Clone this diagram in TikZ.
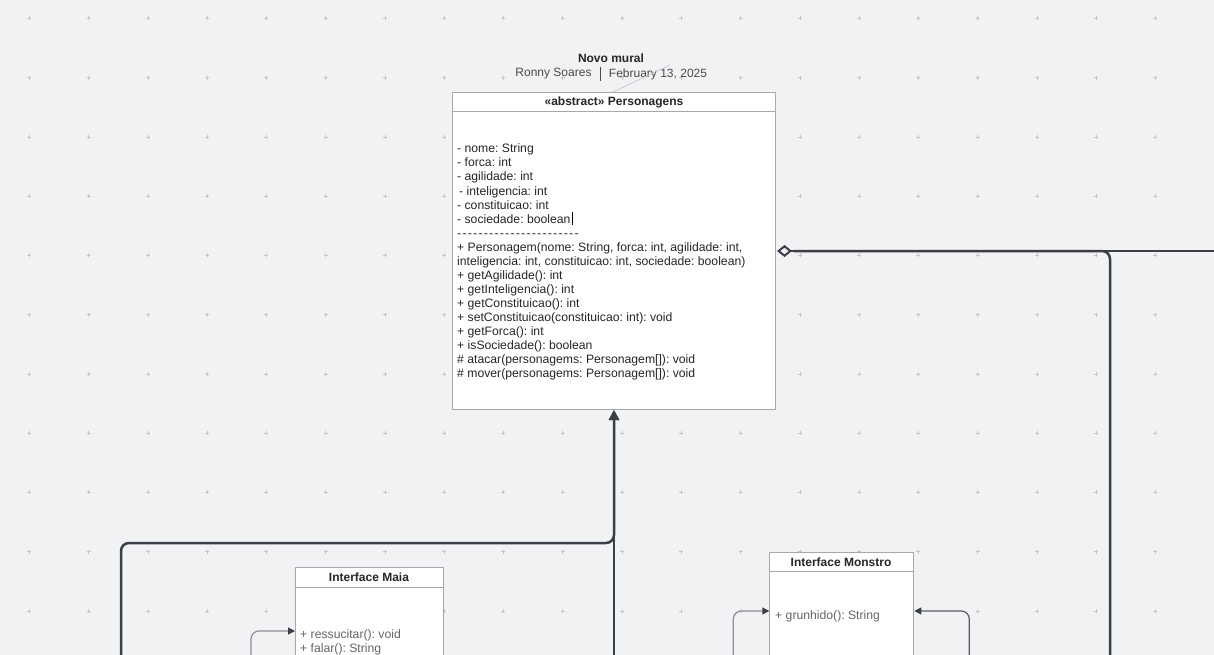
\documentclass[tikz,border=0pt]{standalone}
\usepackage{fontspec}
\setmainfont{Liberation Sans}
\usetikzlibrary{arrows.meta}
\definecolor{bg}{HTML}{F1F2F4}
\definecolor{gridc}{HTML}{C4C6CA}
\definecolor{boxb}{HTML}{A7A8AB}
\definecolor{dark}{HTML}{3B3F49}
\definecolor{thin}{HTML}{8B8E95}
\definecolor{txt}{HTML}{262626}
\definecolor{txtl}{HTML}{4A4A4A}
\frenchspacing
\newcommand{\dsh}{-\kern1.27pt}
\begin{document}
\begin{tikzpicture}[x=1pt,y=-1pt,
  umlbox/.style={draw=boxb, line width=1pt, fill=white, rectangle, inner sep=0pt, anchor=north west},
  hdr/.style={font=\fontsize{12}{14}\selectfont\bfseries, text=txt, inner sep=0pt},
  ln/.style={font=\fontsize{12.2}{14}\selectfont, text=txt, inner sep=0pt, anchor=base west},
  lnl/.style={ln, text=txtl!85},
  sub/.style={font=\fontsize{12}{14}\selectfont, text=txtl, inner sep=0pt},
  conn/.style={draw=dark, line width=2.5pt, rounded corners=8pt},
  thinconn/.style={draw=thin, line width=1.2pt, rounded corners=8pt, -{Triangle[length=7pt,width=7pt,color=dark]}},
  sepline/.style={draw=boxb, line width=1pt},
]
\useasboundingbox[fill=bg] (0,0) rectangle (1214,655);
\clip (0,0) rectangle (1214,655);
% grid of plus marks
\foreach \i in {0,...,19}{\foreach \j in {0,...,10}{
  \draw[gridc, line width=0.6pt] (29.3+59.27*\i-2, 18.3+59.27*\j) -- ++(4,0)
     (29.3+59.27*\i, 18.3+59.27*\j-2) -- ++(0,4);
}}
% title
\node[hdr] (title) at (611,58) {Novo mural};
\node[sub] (author) at (553.5,74) {Ronny Soares};
\node[sub] (date) at (658,74) {February 13, 2025};
\draw[txtl, line width=0.8pt] (600,67) -- (600,81);
% main class
\node[umlbox, minimum width=323pt, minimum height=317pt] (pers) at (452,92) {};
\coordinate (faint) at (670,65);
\draw[gridc, line width=0.7pt] ([xshift=-1pt]pers.north) -- (faint);
\draw[sepline] ([yshift=-20pt]pers.north west) -- ([yshift=-20pt]pers.north east);
\node[hdr] (persh) at (614,102.5) {«abstract» Personagens};
\node[ln] (p1) at (457,153) {- nome: String};
\node[ln] (p2) at (457,167) {- forca: int};
\node[ln] (p3) at (457,181) {- agilidade: int};
\node[ln] (p4) at (459,195) {- inteligencia: int};
\node[ln] (p5) at (457,209) {- constituicao: int};
\node[ln] (p6) at (457,223) {- sociedade: boolean};
\draw[black, line width=0.8pt] ([xshift=2pt,yshift=-2pt]p6.base east) -- ++(0,-13);
\node[ln] (p7) at (457,237) {\dsh\dsh\dsh\dsh\dsh\dsh\dsh\dsh\dsh\dsh\dsh\dsh\dsh\dsh\dsh\dsh\dsh\dsh\dsh\dsh\dsh\dsh-};
\node[ln] (p8) at (457,251) {+ Personagem(nome: String, forca: int, agilidade: int,};
\node[ln] (p9) at (457,265) {inteligencia: int, constituicao: int, sociedade: boolean)};
\node[ln] (p10) at (457,279) {+ getAgilidade(): int};
\node[ln] (p11) at (457,293) {+ getInteligencia(): int};
\node[ln] (p12) at (457,307) {+ getConstituicao(): int};
\node[ln] (p13) at (457,321) {+ setConstituicao(constituicao: int): void};
\node[ln] (p14) at (457,335) {+ getForca(): int};
\node[ln] (p15) at (457,349) {+ isSociedade(): boolean};
\node[ln] (p16) at (457,363) {\# atacar(personagems: Personagem[]): void};
\node[ln] (p17) at (457,377) {\# mover(personagems: Personagem[]): void};
% Interface Maia
\node[umlbox, minimum width=148pt, minimum height=120pt] (maia) at (295,567) {};
\draw[sepline] ([yshift=-20pt]maia.north west) -- ([yshift=-20pt]maia.north east);
\node[hdr] (maiah) at (369,577) {Interface Maia};
\node[lnl] (m1) at (300,638) {+ ressucitar(): void};
\node[lnl] (m2) at (300,652) {+ falar(): String};
% Interface Monstro
\node[umlbox, minimum width=144pt, minimum height=130pt] (mon) at (769.3,551.7) {};
\draw[sepline] ([yshift=-20pt]mon.north west) -- ([yshift=-20pt]mon.north east);
\node[hdr] (monh) at (841,562) {Interface Monstro};
\node[lnl] (g1) at (775,619) {+ grunhido(): String};
% connectors
\coordinate (inhA) at (121,670);
\coordinate (inhB) at (614,670);
\draw[conn, -{Triangle[length=10pt,width=10pt]}] (inhA) -- (121,543) -- (614,543) -- (pers.south);
\draw[conn, -{Triangle[length=10pt,width=10pt]}] (inhB) -- (pers.south);
\coordinate (aggR) at (1230,251);
\coordinate (aggD) at (1110,670);
\draw[conn, {Diamond[open,length=15pt,width=12pt,line width=2pt]}-] ([xshift=1pt]pers.east) -- (aggR);
\draw[conn] (aggD) |- ([xshift=18pt]pers.east);
\coordinate (maiaS) at (251,670);
\draw[thinconn] (maiaS) |- ([yshift=-64pt]maia.north west);
\coordinate (monL) at (733.3,670);
\draw[thinconn] (monL) |- ([yshift=-59.3pt]mon.north west);
\coordinate (monR) at (969.3,670);
\draw[thinconn, draw=dark!85] (monR) |- ([yshift=-59.3pt]mon.north east);
\end{tikzpicture}
\end{document}
